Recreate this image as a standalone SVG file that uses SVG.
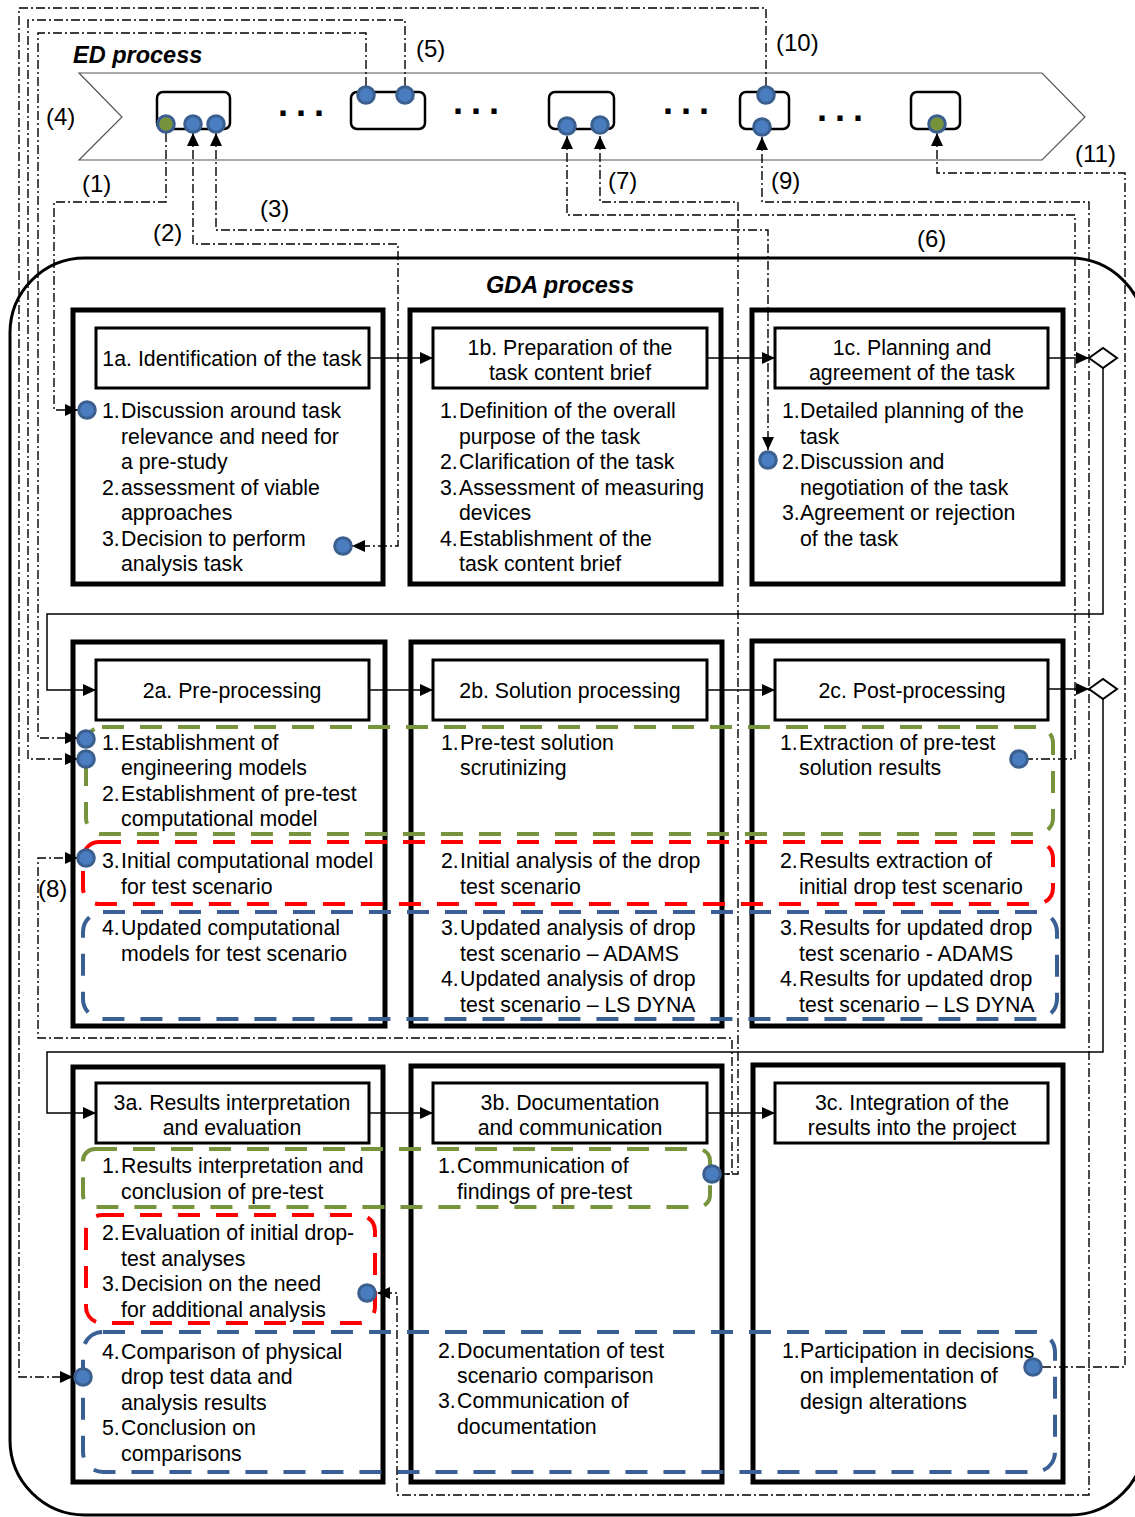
<svg xmlns="http://www.w3.org/2000/svg" width="1135" height="1517" viewBox="0 0 1135 1517">
<style>
text{font-family:"Liberation Sans",Arial,sans-serif;font-size:21.3px;fill:#000}
.mid{text-anchor:middle}
.title{font-size:23.5px;font-weight:bold;font-style:italic}
.lbl{font-size:24px}
.dots{font-size:36px;font-weight:bold;letter-spacing:8px}
.band{fill:#fff;stroke:#555;stroke-width:1.2}
.edbox{fill:#fff;stroke:#000;stroke-width:2.5}
.gda{fill:none;stroke:#000;stroke-width:3}
.stage{fill:#fff;stroke:#000;stroke-width:5}
.head{fill:#fff;stroke:#000;stroke-width:3}
.dd{fill:none;stroke:#000;stroke-width:1.4;stroke-dasharray:9,3,2,3}
.flow{fill:none;stroke:#000;stroke-width:1.5}
.gr{fill:none;stroke:#77933c;stroke-width:4;stroke-dasharray:22,16}
.rd{fill:none;stroke:#ff0000;stroke-width:4;stroke-dasharray:22,16}
.bl{fill:none;stroke:#3a5f94;stroke-width:4;stroke-dasharray:22,16}
.port{fill:#4a7cc0;stroke:#3b5f8f;stroke-width:3}
.gport{fill:#77933c;stroke:#3b5f8f;stroke-width:3}
.dia{fill:#fff;stroke:#000;stroke-width:2}
</style>
<defs>
<marker id="arr" viewBox="0 0 13 12" refX="13" refY="6" markerWidth="13" markerHeight="12" markerUnits="userSpaceOnUse" orient="auto-start-reverse">
<path d="M0,0 L13,6 L0,12 z" fill="#000" stroke="none"/>
</marker>
</defs>
<rect x="0" y="0" width="1135" height="1517" fill="#fff"/>

<g id="ed-process">
<polygon class="band" points="79,73 1042,73 1085,117 1042,160 79,160 122,117"/>
<text class="title" x="73" y="63">ED process</text>
<text class="dots" x="278" y="116">...</text>
<text class="dots" x="453" y="114">...</text>
<text class="dots" x="663" y="114">...</text>
<text class="dots" x="817" y="121">...</text>
</g>
<g id="ed-box1"><rect class="edbox" x="157" y="92" width="73" height="37" rx="6"/></g>
<g id="ed-box2"><rect class="edbox" x="351" y="92" width="74" height="37" rx="6"/></g>
<g id="ed-box3"><rect class="edbox" x="549" y="92" width="65" height="37" rx="6"/></g>
<g id="ed-box4"><rect class="edbox" x="740" y="92" width="49" height="37" rx="6"/></g>
<g id="ed-box5"><rect class="edbox" x="911" y="92" width="49" height="37" rx="6"/></g>

<g id="gda-process">
<rect class="gda" x="10" y="258" width="1135" height="1257" rx="75"/>
<text class="title mid" x="560" y="293">GDA process</text>
</g>

<g id="stage-1a">
<rect class="stage" x="73" y="310" width="310" height="274"/>
<rect class="head" x="96" y="328" width="273" height="60"/>
<text class="mid" x="232" y="365.5">1a. Identification of the task</text>
<text x="102" y="418">1.</text><text x="121" y="418">Discussion around task</text>
<text x="121" y="443.5">relevance and need for</text>
<text x="121" y="469">a pre-study</text>
<text x="102" y="494.5">2.</text><text x="121" y="494.5">assessment of viable</text>
<text x="121" y="520">approaches</text>
<text x="102" y="545.5">3.</text><text x="121" y="545.5">Decision to perform</text>
<text x="121" y="571">analysis task</text>
</g>
<g id="stage-1b">
<rect class="stage" x="410" y="310" width="311" height="274"/>
<rect class="head" x="433" y="328" width="274" height="60"/>
<text class="mid" x="570" y="354.5">1b. Preparation of the</text>
<text class="mid" x="570" y="379.5">task content brief</text>
<text x="440" y="418">1.</text><text x="459" y="418">Definition of the overall</text>
<text x="459" y="443.5">purpose of the task</text>
<text x="440" y="469">2.</text><text x="459" y="469">Clarification of the task</text>
<text x="440" y="494.5">3.</text><text x="459" y="494.5">Assessment of measuring</text>
<text x="459" y="520">devices</text>
<text x="440" y="545.5">4.</text><text x="459" y="545.5">Establishment of the</text>
<text x="459" y="571">task content brief</text>
</g>
<g id="stage-1c">
<rect class="stage" x="752" y="310" width="311" height="274"/>
<rect class="head" x="775" y="328" width="273" height="60"/>
<text class="mid" x="912" y="354.5">1c. Planning and</text>
<text class="mid" x="912" y="379.5">agreement of the task</text>
<text x="782" y="418">1.</text><text x="800" y="418">Detailed planning of the</text>
<text x="800" y="443.5">task</text>
<text x="782" y="469">2.</text><text x="800" y="469">Discussion and</text>
<text x="800" y="494.5">negotiation of the task</text>
<text x="782" y="520">3.</text><text x="800" y="520">Agreement or rejection</text>
<text x="800" y="545.5">of the task</text>
</g>

<g id="stage-2a">
<rect class="stage" x="73" y="642" width="312" height="384"/>
<rect class="head" x="96" y="660" width="273" height="60"/>
<text class="mid" x="232" y="697.5">2a. Pre-processing</text>
<text x="102" y="749.5">1.</text><text x="121" y="749.5">Establishment of</text>
<text x="121" y="774.5">engineering models</text>
<text x="102" y="800.5">2.</text><text x="121" y="800.5">Establishment of pre-test</text>
<text x="121" y="825.5">computational model</text>
<text x="102" y="867.5">3.</text><text x="121" y="867.5">Initial computational model</text>
<text x="121" y="893.5">for test scenario</text>
<text x="102" y="934.5">4.</text><text x="121" y="934.5">Updated computational</text>
<text x="121" y="960.5">models for test scenario</text>
</g>
<g id="stage-2b">
<rect class="stage" x="411" y="642" width="311" height="384"/>
<rect class="head" x="433" y="660" width="274" height="60"/>
<text class="mid" x="570" y="697.5">2b. Solution processing</text>
<text x="441" y="749.5">1.</text><text x="460" y="749.5">Pre-test solution</text>
<text x="460" y="774.5">scrutinizing</text>
<text x="441" y="867.5">2.</text><text x="460" y="867.5">Initial analysis of the drop</text>
<text x="460" y="893.5">test scenario</text>
<text x="441" y="934.5">3.</text><text x="460" y="934.5">Updated analysis of drop</text>
<text x="460" y="960.5">test scenario – ADAMS</text>
<text x="441" y="985.5">4.</text><text x="460" y="985.5">Updated analysis of drop</text>
<text x="460" y="1011.5">test scenario – LS DYNA</text>
</g>
<g id="stage-2c">
<rect class="stage" x="752" y="641" width="311" height="385"/>
<rect class="head" x="775" y="660" width="273" height="60"/>
<text class="mid" x="912" y="697.5">2c. Post-processing</text>
<text x="780" y="749.5">1.</text><text x="799" y="749.5">Extraction of pre-test</text>
<text x="799" y="774.5">solution results</text>
<text x="780" y="867.5">2.</text><text x="799" y="867.5">Results extraction of</text>
<text x="799" y="893.5">initial drop test scenario</text>
<text x="780" y="934.5">3.</text><text x="799" y="934.5">Results for updated drop</text>
<text x="799" y="960.5">test scenario - ADAMS</text>
<text x="780" y="985.5">4.</text><text x="799" y="985.5">Results for updated drop</text>
<text x="799" y="1011.5">test scenario – LS DYNA</text>
</g>

<g id="stage-3a">
<rect class="stage" x="73" y="1067" width="310" height="415"/>
<rect class="head" x="96" y="1083" width="273" height="60"/>
<text class="mid" x="232" y="1109.5">3a. Results interpretation</text>
<text class="mid" x="232" y="1134.5">and evaluation</text>
<text x="102" y="1172.5">1.</text><text x="121" y="1172.5">Results interpretation and</text>
<text x="121" y="1198.5">conclusion of pre-test</text>
<text x="102" y="1239.5">2.</text><text x="121" y="1239.5">Evaluation of initial drop-</text>
<text x="121" y="1265.5">test analyses</text>
<text x="102" y="1290.5">3.</text><text x="121" y="1290.5">Decision on the need</text>
<text x="121" y="1316.5">for additional analysis</text>
<text x="102" y="1358.5">4.</text><text x="121" y="1358.5">Comparison of physical</text>
<text x="121" y="1383.5">drop test data and</text>
<text x="121" y="1409.5">analysis results</text>
<text x="102" y="1434.5">5.</text><text x="121" y="1434.5">Conclusion on</text>
<text x="121" y="1460.5">comparisons</text>
</g>
<g id="stage-3b">
<rect class="stage" x="411" y="1066" width="311" height="416"/>
<rect class="head" x="433" y="1083" width="274" height="60"/>
<text class="mid" x="570" y="1109.5">3b. Documentation</text>
<text class="mid" x="570" y="1134.5">and communication</text>
<text x="438" y="1172.5">1.</text><text x="457" y="1172.5">Communication of</text>
<text x="457" y="1198.5">findings of pre-test</text>
<text x="438" y="1357.5">2.</text><text x="457" y="1357.5">Documentation of test</text>
<text x="457" y="1382.5">scenario comparison</text>
<text x="438" y="1407.5">3.</text><text x="457" y="1407.5">Communication of</text>
<text x="457" y="1433.5">documentation</text>
</g>
<g id="stage-3c">
<rect class="stage" x="753" y="1065" width="310" height="417"/>
<rect class="head" x="775" y="1083" width="273" height="60"/>
<text class="mid" x="912" y="1109.5">3c. Integration of the</text>
<text class="mid" x="912" y="1134.5">results into the project</text>
<text x="782" y="1357.5">1.</text><text x="800" y="1357.5">Participation in decisions</text>
<text x="800" y="1382.5">on implementation of</text>
<text x="800" y="1408.5">design alterations</text>
</g>

<g id="groupings">
<rect class="gr" x="86" y="727" width="967" height="107" rx="16"/>
<rect class="rd" x="83" y="842" width="970" height="62" rx="16"/>
<rect class="bl" x="83" y="912" width="974" height="107" rx="20"/>
<rect class="gr" x="83" y="1149" width="627" height="58" rx="12"/>
<rect class="rd" x="86" y="1215" width="289" height="108" rx="16"/>
<rect class="bl" x="83" y="1332" width="972" height="140" rx="20"/>
</g>

<g id="connectors">
<path class="flow" d="M369,358 H433" marker-end="url(#arr)"/>
<path class="flow" d="M707,358 H775" marker-end="url(#arr)"/>
<path class="flow" d="M1048,358 H1089" marker-end="url(#arr)"/>
<path class="flow" d="M1103,368 V614 H47 V690 H96" marker-end="url(#arr)"/>
<path class="flow" d="M369,690 H433" marker-end="url(#arr)"/>
<path class="flow" d="M707,690 H775" marker-end="url(#arr)"/>
<path class="flow" d="M1048,689 H1089" marker-end="url(#arr)"/>
<path class="flow" d="M1103,699 V1052 H47 V1113 H96" marker-end="url(#arr)"/>
<path class="flow" d="M369,1113 H433" marker-end="url(#arr)"/>
<path class="flow" d="M707,1113 H775" marker-end="url(#arr)"/>
<polygon class="dia" points="1089,358 1103,348 1117,358 1103,368"/>
<polygon class="dia" points="1089,689 1103,679 1117,689 1103,699"/>

<path class="dd" d="M166,133 V202 H54 V410 H78" marker-end="url(#arr)"/>
<path class="dd" d="M193,133 V244 H398 V546 H352" marker-start="url(#arr)" marker-end="url(#arr)"/>
<path class="dd" d="M216,133 V230 H768 V450" marker-start="url(#arr)" marker-end="url(#arr)"/>
<path class="dd" d="M366,86 V33 H38 V738 H78" marker-end="url(#arr)"/>
<path class="dd" d="M405,86 V20 H28 V759 H78" marker-end="url(#arr)"/>
<path class="dd" d="M567,136 V215 H1075 V759 H1028" marker-start="url(#arr)"/>
<path class="dd" d="M600,136 V202 H738 V1174 H721" marker-start="url(#arr)"/>
<path class="dd" d="M721,1174 H732 V1038 H38 V858 H78" marker-end="url(#arr)"/>
<path class="dd" d="M762,137 V202 H1089 V1495 H397 V1293 H377" marker-start="url(#arr)" marker-end="url(#arr)"/>
<path class="dd" d="M766,86 V8 H19 V1377 H73" marker-end="url(#arr)"/>
<path class="dd" d="M937,133 V173 H1125 V1367 H1042" marker-start="url(#arr)"/>

<text class="lbl" x="46" y="125">(4)</text>
<text class="lbl" x="82" y="192">(1)</text>
<text class="lbl" x="153" y="241">(2)</text>
<text class="lbl" x="260" y="217">(3)</text>
<text class="lbl" x="416" y="57">(5)</text>
<text class="lbl" x="608" y="189">(7)</text>
<text class="lbl" x="771" y="189">(9)</text>
<text class="lbl" x="776" y="51">(10)</text>
<text class="lbl" x="917" y="247">(6)</text>
<text class="lbl" x="1075" y="162">(11)</text>
<text class="lbl" x="38" y="897">(8)</text>
</g>

<g id="ports">
<circle class="gport" cx="166" cy="124" r="8.3"/>
<circle class="port" cx="193" cy="124" r="8.3"/>
<circle class="port" cx="216" cy="124" r="8.3"/>
<circle class="port" cx="366" cy="95" r="8.3"/>
<circle class="port" cx="405" cy="95" r="8.3"/>
<circle class="port" cx="567" cy="126" r="8.3"/>
<circle class="port" cx="600" cy="125" r="8.3"/>
<circle class="port" cx="766" cy="95" r="8.3"/>
<circle class="port" cx="762" cy="127" r="8.3"/>
<circle class="gport" cx="937" cy="124" r="8.3"/>
<circle class="port" cx="87" cy="410" r="8.3"/>
<circle class="port" cx="343" cy="546" r="8.3"/>
<circle class="port" cx="768" cy="460" r="8.3"/>
<circle class="port" cx="86" cy="739" r="8.3"/>
<circle class="port" cx="86" cy="759" r="8.3"/>
<circle class="port" cx="86" cy="858" r="8.3"/>
<circle class="port" cx="1019" cy="759" r="8.3"/>
<circle class="port" cx="367" cy="1293" r="8.3"/>
<circle class="port" cx="83" cy="1377" r="8.3"/>
<circle class="port" cx="712" cy="1174" r="8.3"/>
<circle class="port" cx="1033" cy="1367" r="8.3"/>
</g>
</svg>
